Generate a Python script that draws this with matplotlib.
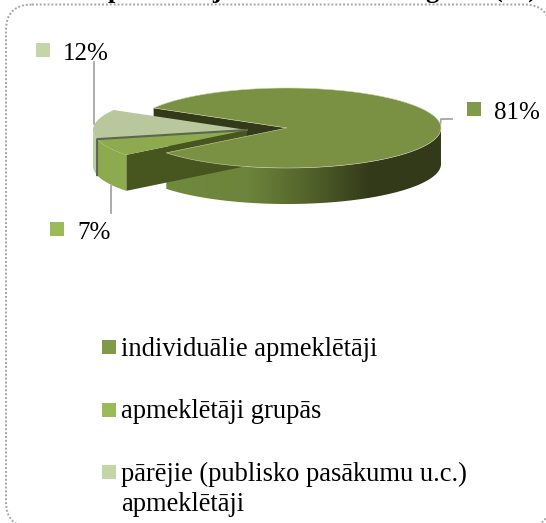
import numpy as np
import matplotlib
matplotlib.use("Agg")
import matplotlib.pyplot as plt
from matplotlib.patches import FancyBboxPatch, Polygon, Rectangle
from matplotlib.colors import LinearSegmentedColormap

plt.rcParams["font.family"] = ["Liberation Serif", "DejaVu Serif"]

categories = ["individuālie apmeklētāji", "apmeklētāji grupās",
              "pārējie (publisko pasākumu u.c.)\napmeklētāji"]
shares = [81, 7, 12]
marker_colors = ["#7f9a48", "#9bbb59", "#c4d6a8"]
top_colors = ["#7a9042", "#8dab4e", "#b8c79c"]

RX, RY, DEPTH = 154, 40, 36
START = 150.0


def rim(cx, cy, a0, a1, dy=0, n=120):
    t = np.radians(np.linspace(a0, a1, n))
    return np.column_stack([cx + RX * np.cos(t), cy - RY * np.sin(t) + dy])


def wedge(cx, cy, a0, a1):
    return np.vstack([[cx, cy], rim(cx, cy, a0, a1)])


def side(cx, cy, a0, a1):
    return np.vstack([rim(cx, cy, a0, a1), rim(cx, cy, a0, a1, DEPTH)[::-1]])


def edge_point(cx, cy, a):
    return rim(cx, cy, a, a, n=1)[0]


fig = plt.figure(figsize=(5.46, 5.23), dpi=100)
ax = fig.add_axes([0, 0, 1, 1])

# frame of the chart area
ax.add_patch(FancyBboxPatch((6, 4.5), 544, 523, boxstyle="round,pad=0,rounding_size=26",
                            fc="white", ec="#a6a6a6", lw=1.4, ls=(0, (1, 1)), zorder=0))

# title of the page above, only the lower tips are in the picture
for tx, s in [(108, "p"), (212, "j"), (425, "g"), (494, "(%)")]:
    ax.text(tx, -2, s, fontsize=19, fontweight="bold", va="baseline", ha="left", zorder=6)

# angles of the slices
sweep = [s / sum(shares) * 360 for s in shares]
grp_a0 = START + sweep[2]
grp_a1 = grp_a0 + sweep[1]
big_c = (287, 128)
small_c = (247, 130)

# big slice, inner wall first, then front rim with a gradient
p = edge_point(*big_c, START)
ax.add_patch(Polygon([big_c, p, (p[0], p[1] + DEPTH), (big_c[0], big_c[1] + DEPTH)],
                     fc="#333a1a", ec="none", zorder=1))
front = Polygon(side(*big_c, grp_a1, 360), fc="none", ec="none", zorder=2)
ax.add_patch(front)
cmap = LinearSegmentedColormap.from_list(
    "rim", [(0, "#708a3e"), (0.3, "#6c843b"), (0.5, "#55662c"), (0.74, "#333a1a"), (1, "#333a1a")])
im = ax.imshow(np.linspace(0, 1, 256)[None, :], cmap=cmap, aspect="auto",
               extent=[big_c[0] - RX * 0.8, big_c[0] + RX, 210, 120], zorder=2)
im.set_clip_path(front)
ax.add_patch(Polygon(wedge(*big_c, grp_a1, START + 360), fc=top_colors[0], ec="#c9d3ae",
                     lw=0.4, zorder=3))

# the two small slices pulled out to the left, only the front part of the rim shows
ax.add_patch(Polygon(side(*small_c, 180, grp_a0), fc="#bccaa2", ec="none", zorder=3))
ax.add_patch(Polygon(side(*small_c, grp_a0, grp_a1), fc="#8dab4e", ec="none", zorder=4))
p = edge_point(*small_c, grp_a1)
ax.add_patch(Polygon([small_c, p, (p[0], p[1] + DEPTH), (small_c[0], small_c[1] + DEPTH)],
                     fc="#47561f", ec="none", zorder=2.5))
ax.add_patch(Polygon(wedge(*small_c, START, grp_a0), fc=top_colors[2], ec="none", zorder=4))
ax.add_patch(Polygon(wedge(*small_c, grp_a0, grp_a1), fc=top_colors[1], ec="none", zorder=4))
q = edge_point(*small_c, grp_a0)
ax.plot([small_c[0], q[0], q[0]], [small_c[1], q[1], q[1] + DEPTH], color="#5c6650", lw=1.5, zorder=5)

# leader lines
lead = "#a6a6a6"
ax.plot([94, 94], [124, 62], color=lead, lw=1.3, zorder=1)
ax.plot([111, 111], [186, 213], color=lead, lw=1.3, zorder=1)
ax.plot([440, 441, 452], [127, 119, 119], color=lead, lw=1.3, zorder=1)

# data labels
label_pos = [(467, 102), (50, 222), (36, 43)]
for (lx, ly), s, c in zip(label_pos, shares, marker_colors):
    ax.add_patch(Rectangle((lx, ly), 14, 14, fc=c, ec="none", zorder=6))
    ax.text(lx + 27, ly + 17, f"{s}%", fontsize=18, va="baseline", ha="left", color="black", zorder=6)

# legend
legend_y = [339.5, 402.5, 464.5]
for y, name, c in zip(legend_y, categories, marker_colors):
    ax.add_patch(Rectangle((102, y), 14, 14, fc=c, ec="none", zorder=6))
    ax.text(121, y - 3, name, fontsize=19.1, va="top", ha="left", color="black",
            linespacing=1.28, zorder=6)

ax.set_xlim(0, 546)
ax.set_ylim(523, 0)
ax.axis("off")

fig.savefig("out.png", dpi=100)
plt.close()
